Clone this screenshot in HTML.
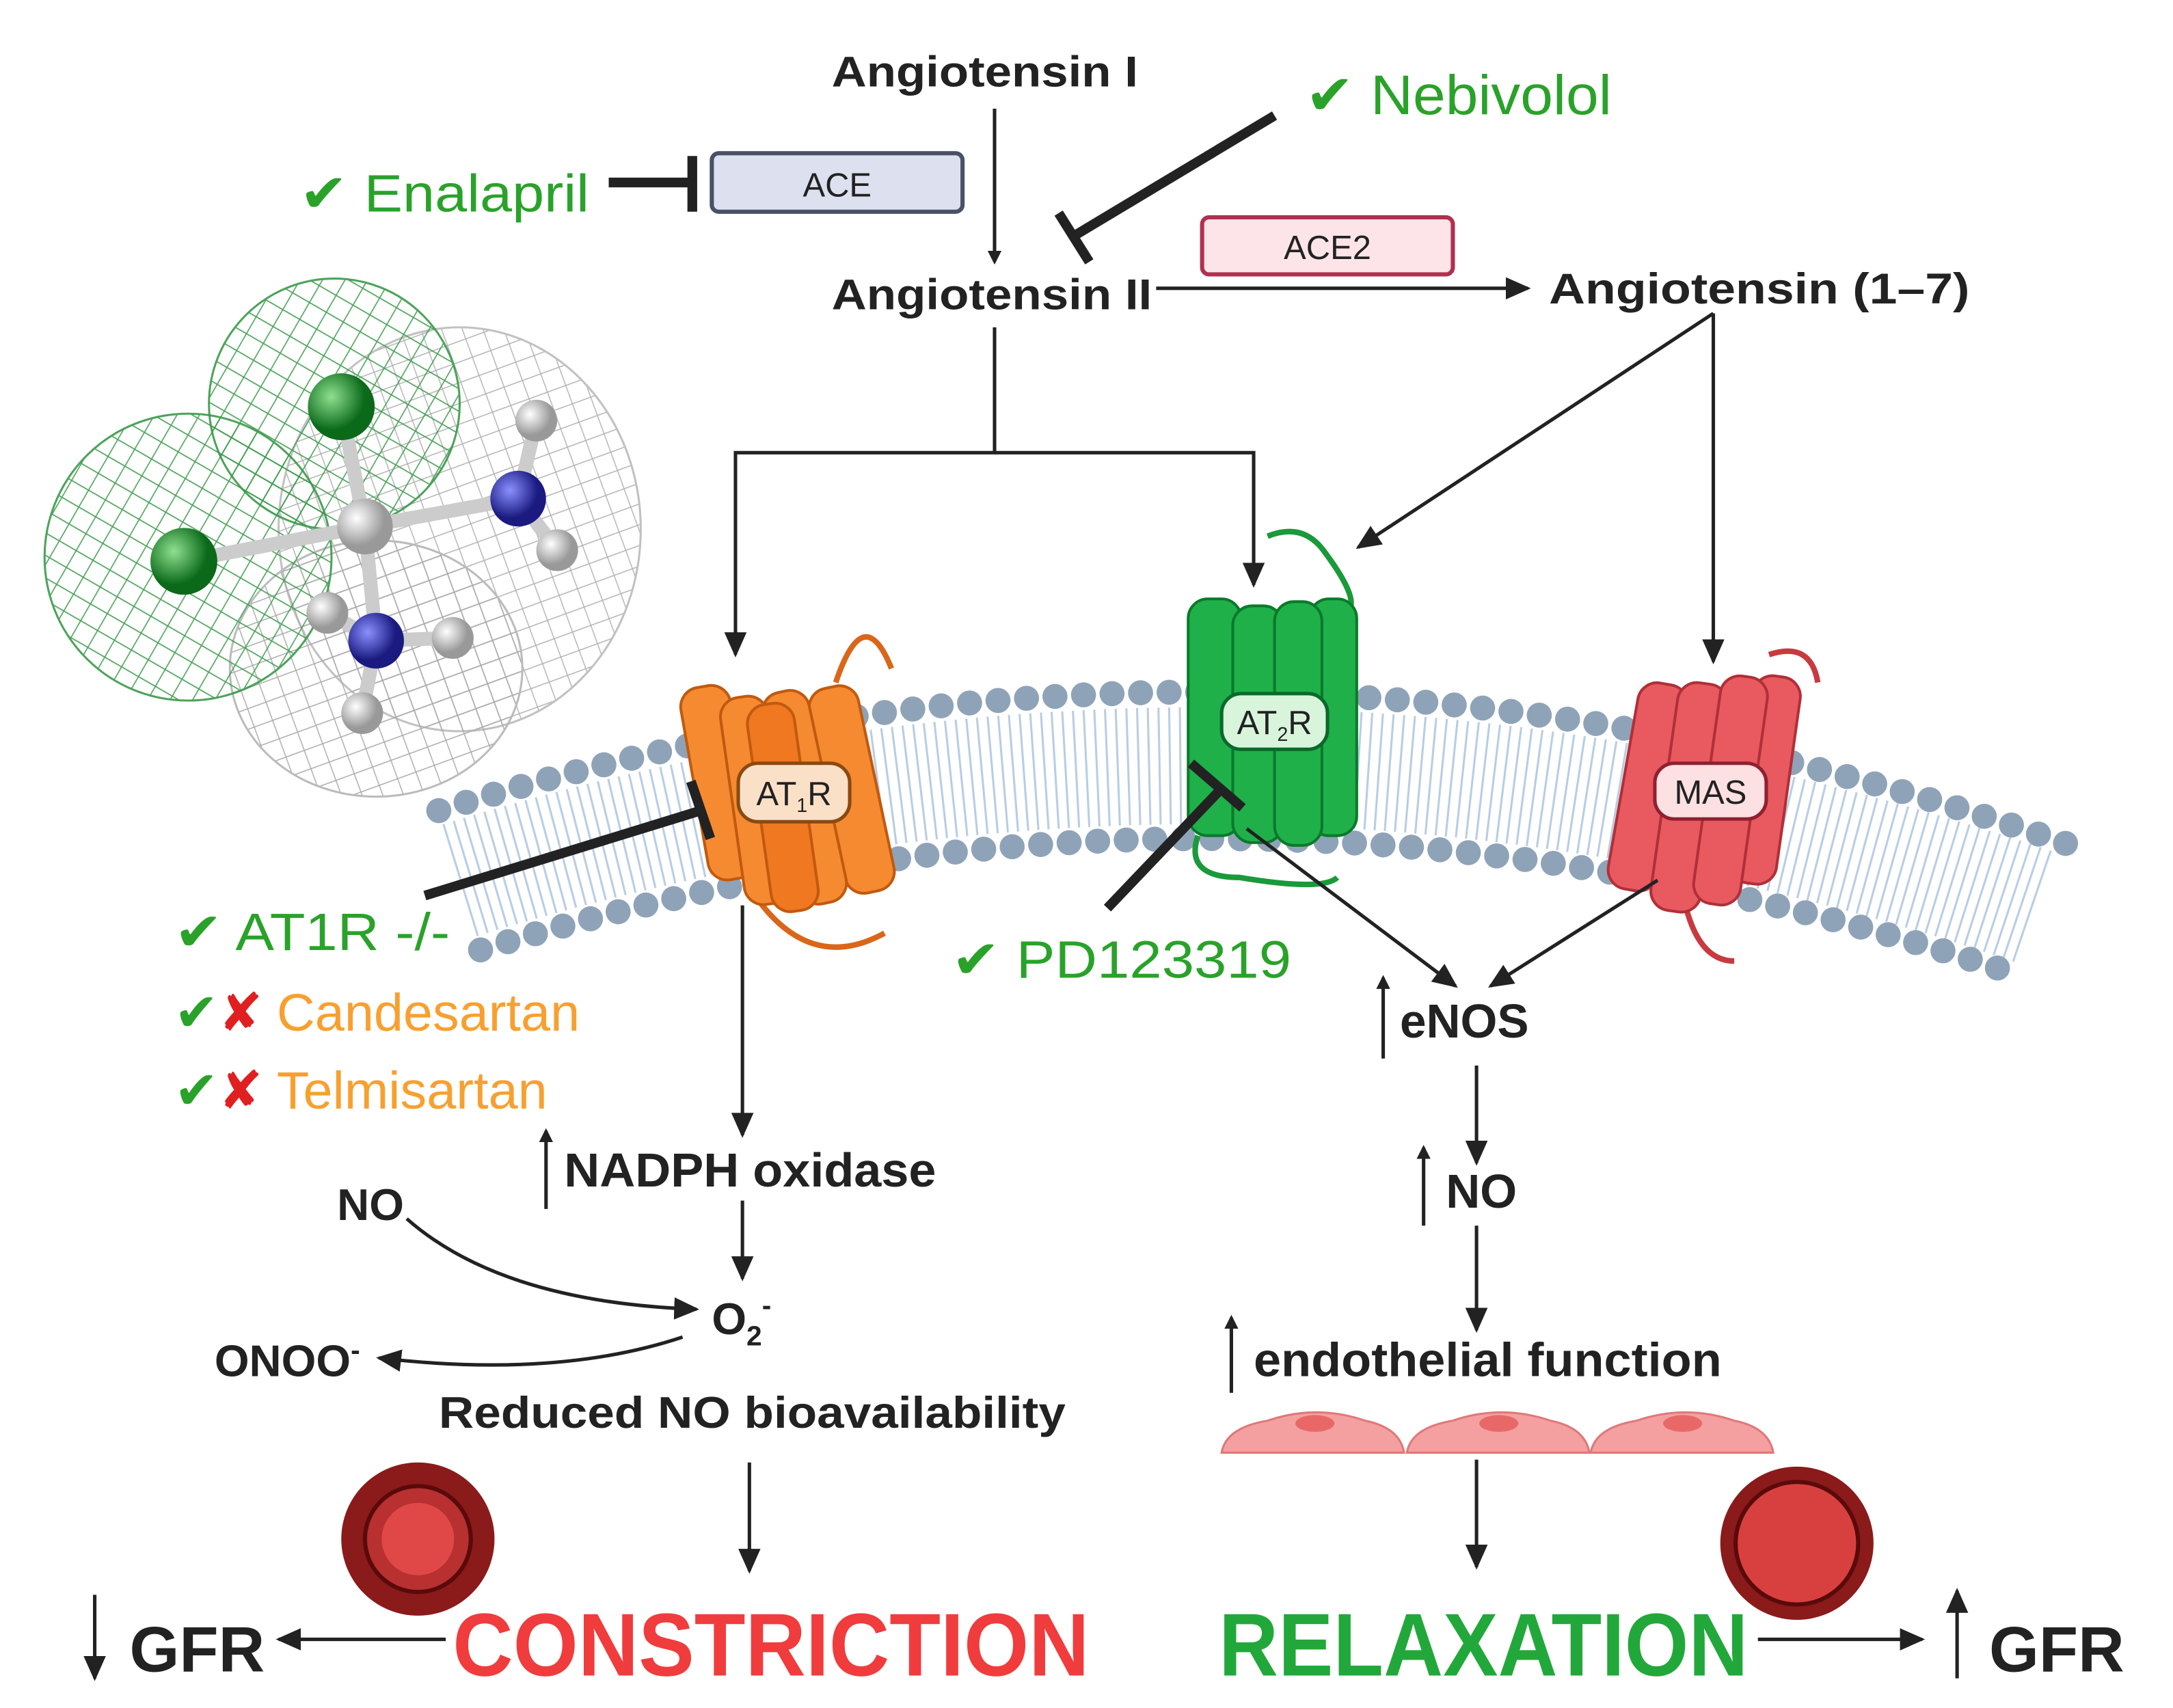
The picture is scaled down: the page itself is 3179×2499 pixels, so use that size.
<!DOCTYPE html>
<html><head><meta charset="utf-8"><style>
html,body{margin:0;padding:0;background:#fff}
svg{display:block}
text{font-family:"Liberation Sans",sans-serif}
.b{font-weight:bold;fill:#222}
.g{fill:#2aa22a}
</style></head><body>
<svg width="3179" height="2499" viewBox="0 0 1560 1226.3" xmlns="http://www.w3.org/2000/svg">
<defs>
<marker id="ar" markerWidth="10" markerHeight="10" refX="8" refY="5" orient="auto" markerUnits="userSpaceOnUse"><path d="M0,0 L10,5 L0,10 z" fill="#222"/></marker>
<marker id="ar2" markerWidth="18" markerHeight="16" refX="16" refY="8" orient="auto" markerUnits="userSpaceOnUse"><path d="M0,0 L18,8 L0,16 z" fill="#222"/></marker>
<radialGradient id="gs" cx="35%" cy="35%"><stop offset="0" stop-color="#8fe08f"/><stop offset="1" stop-color="#0a6a1a"/></radialGradient>
<radialGradient id="ws" cx="35%" cy="35%"><stop offset="0" stop-color="#fff"/><stop offset="1" stop-color="#999"/></radialGradient>
<radialGradient id="bs" cx="35%" cy="35%"><stop offset="0" stop-color="#8a90ff"/><stop offset="1" stop-color="#1a1a80"/></radialGradient>
<pattern id="mg" width="14" height="14" patternUnits="userSpaceOnUse" patternTransform="rotate(30)"><path d="M0,7 H14 M7,0 V14" stroke="#3a9a4a" stroke-width="0.8" fill="none"/></pattern>
<pattern id="mw" width="14" height="14" patternUnits="userSpaceOnUse" patternTransform="rotate(-20)"><path d="M0,7 H14 M7,0 V14" stroke="#aaa" stroke-width="0.7" fill="none"/></pattern>
</defs>

<!-- molecule -->
<g>
<ellipse cx="330" cy="380" rx="130" ry="145" fill="url(#mw)" stroke="#bbb" stroke-width="1.5" opacity="0.9"/>
<ellipse cx="270" cy="480" rx="105" ry="92" fill="url(#mw)" stroke="#bbb" stroke-width="1.5"/>
<ellipse cx="240" cy="290" rx="90" ry="90" fill="url(#mg)" stroke="#3a9a4a" stroke-width="1.5" opacity="0.9"/>
<ellipse cx="135" cy="400" rx="103" ry="103" fill="url(#mg)" stroke="#3a9a4a" stroke-width="1.5" opacity="0.9"/>
<g stroke="#ccc" stroke-width="10" stroke-linecap="round">
<line x1="262" y1="378" x2="245" y2="292"/><line x1="262" y1="378" x2="132" y2="403"/>
<line x1="262" y1="378" x2="372" y2="358"/><line x1="262" y1="378" x2="270" y2="460"/>
<line x1="372" y1="358" x2="385" y2="302"/><line x1="372" y1="358" x2="400" y2="395"/>
<line x1="270" y1="460" x2="235" y2="440"/><line x1="270" y1="460" x2="325" y2="458"/><line x1="270" y1="460" x2="260" y2="512"/>
</g>
<circle cx="262" cy="378" r="20" fill="url(#ws)"/>
<circle cx="245" cy="292" r="24" fill="url(#gs)"/>
<circle cx="132" cy="403" r="24" fill="url(#gs)"/>
<circle cx="372" cy="358" r="20" fill="url(#bs)"/>
<circle cx="270" cy="460" r="20" fill="url(#bs)"/>
<circle cx="385" cy="302" r="15" fill="url(#ws)"/><circle cx="400" cy="395" r="15" fill="url(#ws)"/>
<circle cx="235" cy="440" r="15" fill="url(#ws)"/><circle cx="325" cy="458" r="15" fill="url(#ws)"/><circle cx="260" cy="512" r="15" fill="url(#ws)"/>
</g>

<!-- membrane -->
<path d="M330,632 Q895,458 1463,652" fill="none" stroke="#b8cde4" stroke-width="84" stroke-dasharray="1.5 6"/>
<path d="M315,582 Q900,400 1487,607" fill="none" stroke="#8fa3b8" stroke-width="18" stroke-linecap="round" stroke-dasharray="0 20.5"/>
<path d="M345,682 Q890,515 1440,697" fill="none" stroke="#8fa3b8" stroke-width="18" stroke-linecap="round" stroke-dasharray="0 20.5"/>

<!-- AT1R -->
<g fill="#f58a30" stroke="#c05a10" stroke-width="2">
<path d="M600,490 q20,-60 40,-10 M540,640 q40,60 95,30" fill="none" stroke="#d9661a" stroke-width="4"/>
<rect x="498" y="492" width="36" height="140" rx="14" transform="rotate(-10 516 560)"/>
<rect x="592" y="492" width="36" height="150" rx="14" transform="rotate(-12 610 560)"/>
<rect x="525" y="500" width="34" height="150" rx="14" transform="rotate(-8 540 570)"/>
<rect x="560" y="495" width="34" height="155" rx="14" transform="rotate(-12 577 570)"/>
<rect x="545" y="505" width="34" height="150" rx="14" fill="#f07820" transform="rotate(-8 560 580)"/>
</g>
<rect x="530" y="548" width="80" height="42" rx="14" fill="#fbe0c8" stroke="#8a4a10" stroke-width="2.5"/>
<text x="570" y="578" font-size="24" text-anchor="middle" fill="#222">AT<tspan font-size="14" dy="5">1</tspan><tspan dy="-5">R</tspan></text>

<!-- AT2R -->
<g fill="#1fb04a" stroke="#0a7a2a" stroke-width="2">
<path d="M910,385 q25,-10 40,10 q30,40 15,45 M860,600 q-10,30 30,30 q60,10 70,0" fill="none" stroke="#1a9a3a" stroke-width="4"/>
<rect x="853" y="430" width="38" height="170" rx="14"/>
<rect x="940" y="430" width="34" height="170" rx="14"/>
<rect x="885" y="435" width="36" height="170" rx="14"/>
<rect x="915" y="432" width="34" height="175" rx="14"/>
</g>
<rect x="877" y="498" width="76" height="40" rx="14" fill="#d8f5dc" stroke="#0a6a2a" stroke-width="2.5"/>
<text x="915" y="527" font-size="24" text-anchor="middle" fill="#222">AT<tspan font-size="14" dy="5">2</tspan><tspan dy="-5">R</tspan></text>

<!-- MAS -->
<g fill="#e85a60" stroke="#b03038" stroke-width="2">
<path d="M1270,470 q30,-10 35,20 M1210,650 q10,40 35,40" fill="none" stroke="#c83a40" stroke-width="4"/>
<rect x="1165" y="490" width="36" height="150" rx="14" transform="rotate(10 1183 565)"/>
<rect x="1250" y="485" width="34" height="150" rx="14" transform="rotate(8 1267 560)"/>
<rect x="1195" y="490" width="36" height="165" rx="14" transform="rotate(8 1213 570)"/>
<rect x="1225" y="485" width="34" height="165" rx="14" transform="rotate(8 1242 570)"/>
</g>
<rect x="1188" y="548" width="80" height="40" rx="14" fill="#fde0e2" stroke="#902030" stroke-width="2.5"/>
<text x="1228" y="577" font-size="24" text-anchor="middle" fill="#222">MAS</text>

<!-- top pathway -->
<text x="597" y="62" class="b" font-size="31" textLength="220" lengthAdjust="spacingAndGlyphs">Angiotensin I</text>
<line x1="714" y1="78" x2="714" y2="188" stroke="#222" stroke-width="2.5" marker-end="url(#ar)"/>
<rect x="511" y="110" width="180" height="42" rx="5" fill="#dde0ef" stroke="#4a5066" stroke-width="3"/>
<text x="601" y="141" font-size="24" text-anchor="middle" fill="#222">ACE</text>
<text x="215" y="152" font-size="38" class="g" textLength="208" lengthAdjust="spacingAndGlyphs">✔ Enalapril</text>
<line x1="437" y1="131" x2="497" y2="131" stroke="#222" stroke-width="7"/>
<line x1="497" y1="112" x2="497" y2="152" stroke="#222" stroke-width="7"/>
<text x="937" y="82" font-size="40" class="g" textLength="220" lengthAdjust="spacingAndGlyphs">✔ Nebivolol</text>
<line x1="915" y1="83" x2="770" y2="170" stroke="#222" stroke-width="7"/>
<line x1="760" y1="153" x2="782" y2="188" stroke="#222" stroke-width="7"/>
<text x="597" y="222" class="b" font-size="31" textLength="230" lengthAdjust="spacingAndGlyphs">Angiotensin II</text>
<line x1="830" y1="207" x2="1097" y2="207" stroke="#222" stroke-width="2.5" marker-end="url(#ar2)"/>
<rect x="863" y="156" width="180" height="41" rx="5" fill="#fde4e8" stroke="#b03050" stroke-width="3"/>
<text x="953" y="186" font-size="24" text-anchor="middle" fill="#222">ACE2</text>
<text x="1112" y="218" class="b" font-size="31" textLength="302" lengthAdjust="spacingAndGlyphs">Angiotensin (1–7)</text>

<g stroke="#222" stroke-width="2.5" fill="none">
<path d="M714,235 V325 H528 V470" marker-end="url(#ar2)"/>
<path d="M714,325 H900 V420" marker-end="url(#ar2)"/>
<line x1="1230" y1="225" x2="975" y2="393" marker-end="url(#ar2)"/>
<line x1="1230" y1="225" x2="1230" y2="475" marker-end="url(#ar2)"/>
</g>

<!-- left inhibitors -->
<line x1="305" y1="643" x2="503" y2="582" stroke="#222" stroke-width="7"/>
<line x1="496" y1="561" x2="510" y2="602" stroke="#222" stroke-width="7"/>
<text x="125" y="682" font-size="38" class="g" textLength="198" lengthAdjust="spacingAndGlyphs">✔ AT1R -/-</text>
<text x="125" y="740" font-size="38"><tspan fill="#2aa22a">✔</tspan><tspan fill="#e02020">✘</tspan><tspan fill="#f7a030" dx="10">Candesartan</tspan></text>
<text x="125" y="796" font-size="38"><tspan fill="#2aa22a">✔</tspan><tspan fill="#e02020">✘</tspan><tspan fill="#f7a030" dx="10">Telmisartan</tspan></text>
<line x1="795" y1="652" x2="878" y2="565" stroke="#222" stroke-width="7"/>
<line x1="855" y1="548" x2="892" y2="580" stroke="#222" stroke-width="7"/>
<text x="683" y="702" font-size="38" class="g" textLength="244" lengthAdjust="spacingAndGlyphs">✔ PD123319</text>

<!-- left cascade -->
<g stroke="#222" stroke-width="2.5" fill="none">
<line x1="533" y1="650" x2="533" y2="815" marker-end="url(#ar2)"/>
<line x1="392" y1="868" x2="392" y2="812" marker-end="url(#ar)"/>
<line x1="533" y1="862" x2="533" y2="918" marker-end="url(#ar2)"/>
<path d="M292,875 Q360,935 500,940" marker-end="url(#ar2)"/>
<path d="M490,960 Q400,990 272,975" marker-end="url(#ar2)"/>
<line x1="538" y1="1050" x2="538" y2="1128" marker-end="url(#ar2)"/>
<line x1="320" y1="1177" x2="200" y2="1177" marker-end="url(#ar2)"/>
<line x1="68" y1="1145" x2="68" y2="1205" marker-end="url(#ar2)"/>
</g>
<text x="405" y="852" class="b" font-size="34" textLength="267" lengthAdjust="spacingAndGlyphs">NADPH oxidase</text>
<text x="242" y="876" class="b" font-size="32">NO</text>
<text x="511" y="958" class="b" font-size="32">O<tspan font-size="20" dy="8">2</tspan><tspan font-size="20" dy="-22">-</tspan></text>
<text x="154" y="988" class="b" font-size="32">ONOO<tspan font-size="20" dy="-12">-</tspan></text>
<text x="315" y="1025" class="b" font-size="32" textLength="450" lengthAdjust="spacingAndGlyphs">Reduced NO bioavailability</text>
<circle cx="300" cy="1105" r="55" fill="#8b1a1a"/>
<circle cx="300" cy="1105" r="38" fill="#b83030" stroke="#5a0a0a" stroke-width="3"/>
<circle cx="300" cy="1105" r="26" fill="#e04848"/>
<text x="93" y="1200" class="b" font-size="46">GFR</text>
<text x="325" y="1203" font-size="64" font-weight="bold" fill="#f03c3c" textLength="457" lengthAdjust="spacingAndGlyphs">CONSTRICTION</text>

<!-- right cascade -->
<g stroke="#222" stroke-width="2.5" fill="none">
<line x1="895" y1="595" x2="1045" y2="708" marker-end="url(#ar2)"/>
<line x1="1190" y1="632" x2="1070" y2="708" marker-end="url(#ar2)"/>
<line x1="993" y1="760" x2="993" y2="702" marker-end="url(#ar)"/>
<line x1="1060" y1="765" x2="1060" y2="835" marker-end="url(#ar2)"/>
<line x1="1022" y1="880" x2="1022" y2="824" marker-end="url(#ar)"/>
<line x1="1060" y1="880" x2="1060" y2="955" marker-end="url(#ar2)"/>
<line x1="884" y1="1000" x2="884" y2="946" marker-end="url(#ar)"/>
<line x1="1060" y1="1048" x2="1060" y2="1125" marker-end="url(#ar2)"/>
<line x1="1262" y1="1177" x2="1380" y2="1177" marker-end="url(#ar2)"/>
<line x1="1405" y1="1205" x2="1405" y2="1142" marker-end="url(#ar2)"/>
</g>
<text x="1005" y="745" class="b" font-size="34">eNOS</text>
<text x="1038" y="867" class="b" font-size="34">NO</text>
<text x="900" y="988" class="b" font-size="34" textLength="336" lengthAdjust="spacingAndGlyphs">endothelial function</text>
<g fill="#f4a0a0" stroke="#e07878" stroke-width="1.5">
<path d="M877,1043 Q880,1025 910,1020 Q945,1008 980,1020 Q1005,1025 1008,1043 Z"/>
<path d="M1010,1043 Q1013,1025 1043,1020 Q1078,1008 1113,1020 Q1138,1025 1141,1043 Z"/>
<path d="M1142,1043 Q1145,1025 1175,1020 Q1210,1008 1245,1020 Q1270,1025 1273,1043 Z"/>
</g>
<g fill="#e86868"><ellipse cx="944" cy="1022" rx="14" ry="6"/><ellipse cx="1076" cy="1022" rx="14" ry="6"/><ellipse cx="1208" cy="1022" rx="14" ry="6"/></g>
<circle cx="1290" cy="1108" r="55" fill="#8b1a1a"/>
<circle cx="1290" cy="1108" r="44" fill="#d84040" stroke="#5a0a0a" stroke-width="3"/>
<text x="875" y="1203" font-size="64" font-weight="bold" fill="#22a83a" textLength="380" lengthAdjust="spacingAndGlyphs">RELAXATION</text>
<text x="1428" y="1200" class="b" font-size="46">GFR</text>
</svg>
</body></html>
